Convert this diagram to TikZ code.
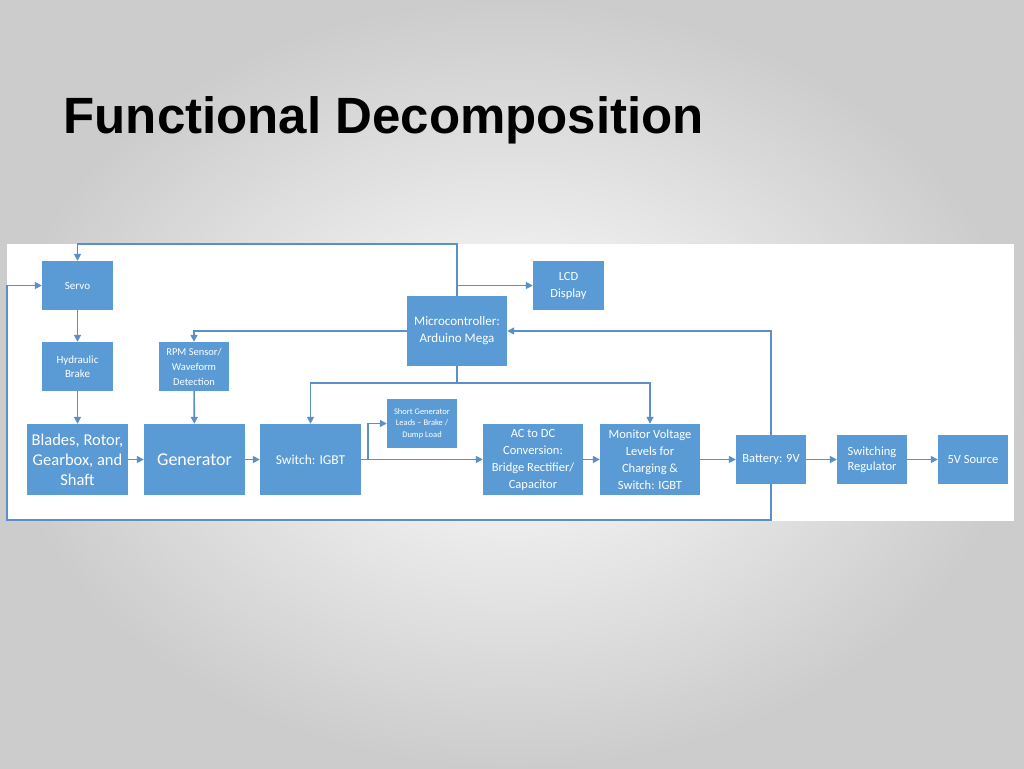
\documentclass[tikz,border=0pt]{standalone}
\usepackage{fontspec}
\setmainfont{Carlito}
\newfontfamily\titlefont{Liberation Sans}
\usetikzlibrary{arrows.meta}
\definecolor{boxblue}{HTML}{5B9BD5}
\definecolor{lineblue}{HTML}{5B8FC9}

\begin{document}
\begin{tikzpicture}[x=1pt,y=-1pt,
  blk/.style={fill=boxblue,text=white,align=center,inner sep=0pt,font=\fontsize{11}{14}\selectfont},
  wire/.style={lineblue,line width=1.6pt},
  arr/.style={wire,-{Triangle[length=7pt,width=7pt]}}]
\useasboundingbox (0,0) rectangle (1024,768);
\shade[inner color=white,outer color=black!20] (0,0) rectangle (1024,768);
\fill[white] (7,244) rectangle (1014,521);
\node[anchor=west,font=\titlefont\bfseries\fontsize{51}{58}\selectfont] (title) at (60,120) {Functional Decomposition};

\node[blk,minimum width=71pt,minimum height=49pt] (servo) at (77.5,285.5) {Servo};
\node[blk,minimum width=71pt,minimum height=49pt] (brake) at (77.5,366.5) {Hydraulic\\Brake};
\node[blk,minimum width=101pt,minimum height=71pt,font=\fontsize{16.5}{20}\selectfont] (blades) at (77.5,459.5) {Blades, Rotor,\\Gearbox, and\\Shaft};
\node[blk,minimum width=70pt,minimum height=49pt,font=\fontsize{10.5}{15}\selectfont] (rpm) at (194,366.5) {RPM Sensor/\\Waveform\\Detection};
\node[blk,minimum width=101pt,minimum height=71pt,font=\fontsize{18}{22}\selectfont] (gen) at (194.5,459.5) {Generator};
\node[blk,minimum width=101pt,minimum height=71pt,font=\fontsize{13.5}{16}\selectfont] (igbt) at (310.5,459.5) {Switch: IGBT};
\node[blk,minimum width=70pt,minimum height=49pt,font=\fontsize{8.5}{11.5}\selectfont] (short) at (422,423.5) {Short Generator\\Leads -- Brake /\\Dump Load};
\node[blk,minimum width=100pt,minimum height=71pt,font=\fontsize{12.5}{17}\selectfont] (acdc) at (533,459.5) {AC to DC\\Conversion:\\Bridge Rectifier/\\Capacitor};
\node[blk,minimum width=100pt,minimum height=71pt,font=\fontsize{12.5}{17}\selectfont] (monitor) at (650,459.5) {Monitor Voltage\\Levels for\\Charging \&\\Switch: IGBT};
\node[blk,minimum width=70pt,minimum height=49pt,font=\fontsize{12.5}{15}\selectfont] (battery) at (771,459.5) {Battery: 9V};
\node[blk,minimum width=70pt,minimum height=49pt,font=\fontsize{12.5}{15}\selectfont] (regulator) at (872,459.5) {Switching\\Regulator};
\node[blk,minimum width=70pt,minimum height=49pt,font=\fontsize{12.5}{15}\selectfont] (source) at (973,459.5) {5V Source};
\node[blk,minimum width=71pt,minimum height=49pt,font=\fontsize{12.5}{17}\selectfont] (lcd) at (568.5,285.5) {LCD\\Display};
\node[blk,minimum width=100pt,minimum height=70pt,font=\fontsize{13}{17}\selectfont] (micro) at (457,331) {Microcontroller:\\Arduino Mega};

\coordinate (topleft) at (77.5,244);
\coordinate (split) at (457,285.5);
\coordinate (bus) at (457,383);
\coordinate (tap) at (368,459.5);
\coordinate (floor) at (771,520);
\coordinate (corner) at (7,520);

% chain
\draw[arr] (servo) -- (brake);
\draw[arr] (brake) -- (blades);
\draw[arr] (rpm) -- (gen);
\draw[arr] (blades) -- (gen);
\draw[arr] (gen) -- (igbt);
\draw[arr] (igbt) -- (acdc);
\draw[arr] (tap) |- (short);
\draw[arr] (acdc) -- (monitor);
\draw[arr] (monitor) -- (battery);
\draw[arr] (battery) -- (regulator);
\draw[arr] (regulator) -- (source);

% control
\draw[arr] (micro.north) |- (topleft) -- (servo.north);
\draw[arr] (split) -- (lcd.west);
\draw[arr] (micro.west) -| (rpm.north);
\draw[wire] (micro.south) -- (bus);
\draw[arr] (bus) -| (igbt.north);
\draw[arr] (bus) -| (monitor.north);
\draw[arr] (battery.north) |- (micro.east);
\draw[arr] (battery.south) -- (floor) -- (corner) |- (servo.west);
\end{tikzpicture}
\end{document}
